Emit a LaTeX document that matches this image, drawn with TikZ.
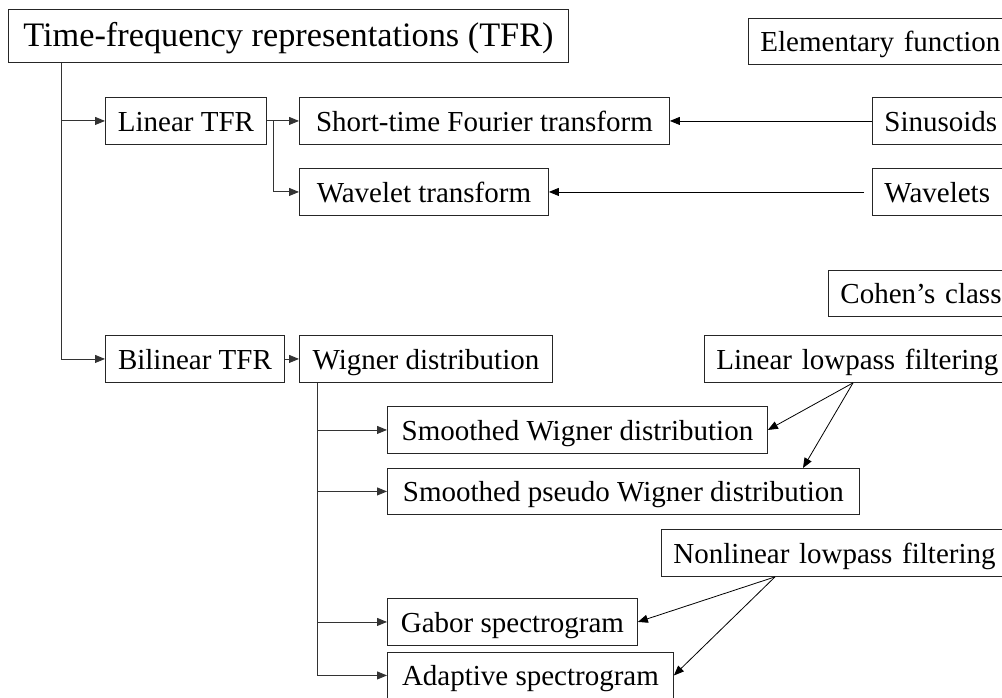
\documentclass[tikz,border=0pt]{standalone}
\usepackage{fontspec}
\setmainfont{Liberation Serif}
\usetikzlibrary{arrows.meta,calc}

\tikzset{
  bx/.style={draw=black!85, line width=0.9pt, rectangle, inner sep=0pt,
    anchor=north west, minimum height=47pt, text height=23pt, text depth=2pt,
    font=\fontsize{29pt}{34pt}\selectfont},
  openbx/.style={draw=black!85, line width=0.9pt, rectangle, inner xsep=12pt,
    inner ysep=0pt, anchor=north west, minimum height=47pt,
    text height=23pt, text depth=2pt,
    text width=420pt, align=left, font=\fontsize{29pt}{34pt}\selectfont},
  ln/.style={draw=black!80, line width=0.9pt},
  arr/.style={ln, -{Triangle[length=10pt,width=8pt]}},
  darr/.style={draw=black, line width=0.8pt, -{Triangle[length=10pt,width=8pt]}}
}

\begin{document}
\begin{tikzpicture}[x=1pt, y=-1pt]
\useasboundingbox (0,0) rectangle (1002,698);
\fill[white] (0,0) rectangle (1002,698);
\clip (0,0) rectangle (1002,698);

% main hierarchy
\node[bx, minimum width=560pt, minimum height=53pt, text height=24pt,
      text depth=3pt, font=\fontsize{34.3pt}{40pt}\selectfont] (title) at (8,9)
      {Time-frequency representations (TFR)};
\node[bx, minimum width=161pt] (lin)  at (105,97)  {Linear TFR};
\node[bx, minimum width=370pt] (stft) at (299,97)  {Short-time Fourier transform};
\node[bx, minimum width=249pt] (wt)   at (299,168) {Wavelet transform};
\node[bx, minimum width=179pt] (bil)  at (105,335) {Bilinear TFR};
\node[bx, minimum width=253pt] (wig)  at (299,335) {Wigner distribution};
\node[bx, minimum width=380pt] (sw)   at (387,406) {Smoothed Wigner distribution};
\node[bx, minimum width=472pt, minimum height=46pt] (spw) at (387,468)
      {Smoothed pseudo Wigner distribution};
\node[bx, minimum width=250pt] (gab)  at (387,598) {Gabor spectrogram};
\node[bx, minimum width=286pt, minimum height=46pt] (ad) at (387,652)
      {Adaptive spectrogram};

% right-hand column, running off the page edge
\node[openbx, minimum height=46pt] (elem) at (748,18)  {Elementary function};
\node[openbx] (sin)  at (872,97)  {Sinusoids};
\node[openbx] (wav)  at (872,168) {Wavelets};
\node[openbx, minimum height=46pt] (coh) at (828,270) {Cohen’s class};
\node[openbx] (llp)  at (704,335) {Linear lowpass filtering};
\node[openbx] (nlp)  at (661,529) {Nonlinear lowpass filtering};

% tree connectors
\coordinate (t0) at ($(title.south west)+(53pt,0)$);
\draw[arr] (t0) |- (lin.west);
\draw[arr] (t0) |- (bil.west);
\draw[arr] (lin.east) -- (stft.west);
\draw[arr] ($(lin.east)+(7pt,0)$) |- (wt.west);
\draw[arr] (bil.east) -- (wig.west);

\coordinate (w0) at ($(wig.south west)+(18pt,0)$);
\draw[arr] (w0) |- (sw.west);
\draw[arr] (w0) |- (spw.west);
\draw[arr] (w0) |- (gab.west);
\draw[arr] (w0) |- (ad.west);

% elementary functions
\draw[darr] (sin.west) -- (stft.east);
\draw[darr, shorten <=8pt] (wav.west) -- (wt.east);

% smoothing kernels
\coordinate (lf) at ($(llp.south west)+(149pt,0)$);
\draw[darr] (lf) -- (sw.east);
\draw[darr] (lf) -- ($(spw.north west)+(416pt,0)$);

\coordinate (nf) at ($(nlp.south west)+(114pt,0)$);
\draw[darr] (nf) -- (gab.east);
\draw[darr] (nf) -- (ad.east);
\end{tikzpicture}
\end{document}
